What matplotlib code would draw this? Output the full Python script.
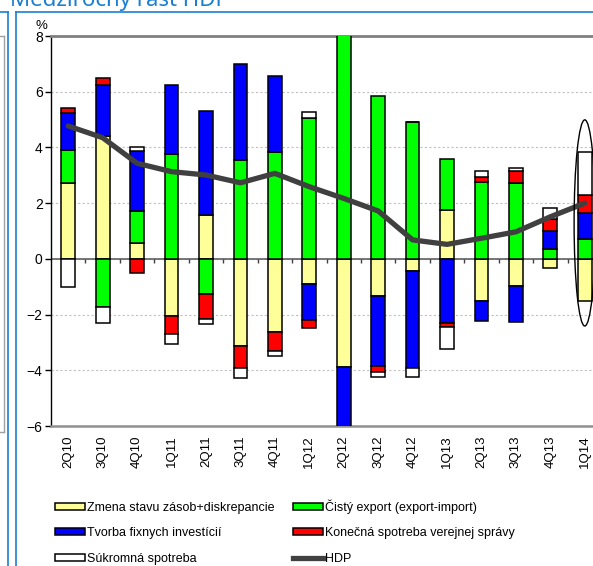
import numpy as np
import matplotlib
matplotlib.use("Agg")
import matplotlib.pyplot as plt
from matplotlib.patches import Ellipse, Patch
from matplotlib.lines import Line2D

plt.rcParams['font.family'] = ['Liberation Sans', 'DejaVu Sans']

# quarters on the x axis
quarters = ['2Q10', '3Q10', '4Q10', '1Q11', '2Q11', '3Q11', '4Q11', '1Q12',
            '2Q12', '3Q12', '4Q12', '1Q13', '2Q13', '3Q13', '4Q13', '1Q14']

# contributions to y/y GDP growth (p.p.), in stacking order
zasoby = [2.73, 4.42, 0.58, -2.05, 1.57, -3.12, -2.62, -0.92,
          -3.87, -1.34, -0.44, 1.75, -1.50, -0.96, -0.34, -1.50]
export = [1.18, -1.72, 1.14, 3.76, -1.26, 3.55, 3.82, 5.07,
          8.50, 5.83, 4.91, 1.82, 2.77, 2.73, 0.34, 0.70]
investicie = [1.34, 1.81, 2.15, 2.48, 3.75, 3.43, 2.75, -1.28,
              -2.60, -2.51, -3.47, -2.29, -0.72, -1.30, 0.66, 0.93]
verejna = [0.15, 0.27, -0.49, -0.63, -0.91, -0.79, -0.69, -0.27,
           0.00, -0.21, 0.00, -0.16, 0.18, 0.43, 0.43, 0.68]
sukromna = [-1.02, -0.57, 0.14, -0.38, -0.18, -0.38, -0.18, 0.21,
            0.00, -0.17, -0.32, -0.80, 0.19, 0.11, 0.38, 1.54]
hdp = [4.77, 4.35, 3.43, 3.13, 3.01, 2.73, 3.07, 2.59,
       2.17, 1.72, 0.68, 0.52, 0.74, 0.97, 1.51, 2.00]

series = [
    ('Zmena stavu zásob+diskrepancie', zasoby, '#ffff99'),
    ('Čistý export (export-import)', export, '#00ff00'),
    ('Tvorba fixnych investícií', investicie, '#0000ff'),
    ('Konečná spotreba verejnej správy', verejna, '#ff0000'),
    ('Súkromná spotreba', sukromna, '#ffffff'),
]

W, H = 593, 566
fig = plt.figure(figsize=(W / 100, H / 100), dpi=100)
ax = fig.add_axes([51 / W, (H - 426) / H, 551 / W, 390 / H])

x = np.arange(len(quarters))
pos = np.zeros(len(quarters))
neg = np.zeros(len(quarters))
handles = {}
for name, vals, col in series:
    v = np.array(vals)
    base = np.where(v >= 0, pos, neg)
    ax.bar(x, v, 0.4, bottom=base, color=col, edgecolor='black',
           linewidth=1.1, zorder=3)
    pos = pos + np.where(v >= 0, v, 0)
    neg = neg + np.where(v < 0, v, 0)
    handles[name] = Patch(facecolor=col, edgecolor='black', linewidth=1.1)

ax.plot(x, hdp, color='#404040', lw=3.8, solid_capstyle='round',
        solid_joinstyle='round', zorder=5)
handles['HDP'] = Line2D([], [], color='#404040', lw=3.8)

# zero line with small ticks between categories
ax.axhline(0, color='#606060', lw=1.2, zorder=2)
ax.vlines(x[:-1] + 0.5, -0.15, 0, color='#404040', lw=1, zorder=2)

# highlight of the last quarter
ax.add_patch(Ellipse((x[-1], 1.29), 0.62, 7.4, fill=False,
                     edgecolor='black', lw=1, zorder=6, clip_on=False))

ax.set_xlim(-0.5, len(quarters) - 0.5)
ax.set_ylim(-6, 8)
ax.set_yticks(np.arange(-6, 9, 2))
ax.set_xticks(x)
ax.set_xticklabels(quarters, rotation=90, fontsize=9.5)
ax.tick_params(axis='x', length=0, pad=7)
ax.tick_params(axis='y', length=4, width=1, direction='out', pad=2,
               labelsize=10)
ax.yaxis.grid(True, color='#c0c0c0', linestyle=(0, (2, 2)), lw=0.8)
ax.set_axisbelow(True)
ax.spines['right'].set_visible(False)
ax.spines['top'].set_color('#808080')
ax.spines['top'].set_linewidth(2)
ax.spines['bottom'].set_color('#909090')
ax.spines['bottom'].set_linewidth(1.8)
ax.spines['left'].set_linewidth(1)
ax.annotate('%', xy=(0, 1), xycoords='axes fraction', xytext=(-7, 3),
            textcoords='offset points', fontsize=9.5, ha='center', va='bottom')

order = ['Zmena stavu zásob+diskrepancie', 'Tvorba fixnych investícií',
         'Súkromná spotreba', 'Čistý export (export-import)',
         'Konečná spotreba verejnej správy', 'HDP']
fig.legend([handles[k] for k in order], order, ncol=2, frameon=False,
           loc='upper left', bbox_to_anchor=(55 / W, 1 - 499 / H),
           fontsize=9, handlelength=2.4, handleheight=0.5,
           handletextpad=0.15, columnspacing=1.5, labelspacing=1.1,
           borderpad=0, borderaxespad=0)

# surrounding page decorations (cut-off title and panel frames)
blue = '#1a7fd0'
fig.text(10 / W, 1 - 6 / H, 'Medziročný rast HDP', color=blue,
         fontsize=16, family='Noto Sans', va='baseline', ha='left')
fig.add_artist(Line2D([0, 8 / W], [1 - 12 / H] * 2, color=blue, lw=1.2))
fig.add_artist(Line2D([8 / W] * 2, [0, 1 - 12 / H], color=blue, lw=1.2))
fig.add_artist(Line2D([16 / W] * 2, [0, 1 - 12 / H], color=blue, lw=1.2))
fig.add_artist(Line2D([16 / W, 1], [1 - 12 / H] * 2, color=blue, lw=1.2))
gray = '#a0a0a0'
fig.add_artist(Line2D([4 / W] * 2, [1 - 432 / H, 1 - 36 / H], color=gray, lw=1))
fig.add_artist(Line2D([0, 4 / W], [1 - 36 / H] * 2, color=gray, lw=1))
fig.add_artist(Line2D([0, 4 / W], [1 - 432 / H] * 2, color=gray, lw=1))

fig.savefig('out.png', dpi=100)
